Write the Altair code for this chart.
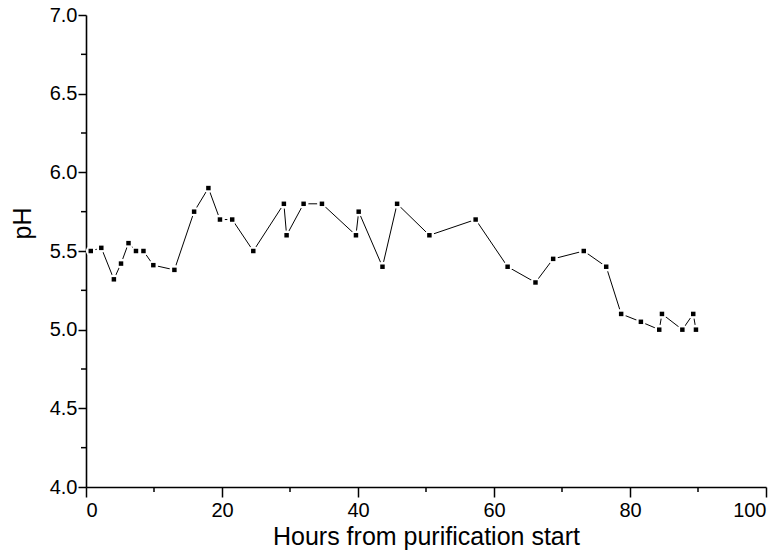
import altair as alt
import pandas as pd

# pH readings over the purification run
hours = [0.7, 2.25, 4.1, 5.15, 6.25, 7.35, 8.45, 9.9, 13.0, 15.9,
         18.0, 19.7, 21.5, 24.6, 29.1, 29.5, 32.0, 34.7, 39.7, 40.1,
         43.6, 45.75, 50.5, 57.3, 62.0, 66.1, 68.7, 73.2, 76.5, 78.7,
         81.6, 84.3, 84.7, 87.7, 89.3, 89.7]
ph = [5.50, 5.52, 5.32, 5.42, 5.55, 5.50, 5.50, 5.41, 5.38, 5.75,
      5.90, 5.70, 5.70, 5.50, 5.80, 5.60, 5.80, 5.80, 5.60, 5.75,
      5.40, 5.80, 5.60, 5.70, 5.40, 5.30, 5.45, 5.50, 5.40, 5.10,
      5.05, 5.00, 5.10, 5.00, 5.10, 5.00]

x_major = [0, 20, 40, 60, 80, 100]
x_minor = [10, 30, 50, 70, 90]
y_major = [4.0, 4.5, 5.0, 5.5, 6.0, 6.5, 7.0]
y_minor = [4.25, 4.75, 5.25, 5.75, 6.25, 6.75]

W, H = 680, 472
FONT = "Liberation Sans"

df = pd.DataFrame({"hours": hours, "ph": ph, "idx": list(range(len(hours)))})
xminor_df = pd.DataFrame({"hours": x_minor})
yminor_df = pd.DataFrame({"ph": y_minor})

x_scale = alt.Scale(domain=[0, 100], nice=False, zero=False)
y_scale = alt.Scale(domain=[4, 7], nice=False, zero=False)

x_axis = alt.Axis(values=x_major, format="d", title="Hours from purification start",
                  grid=False, tickSize=10, labelPadding=3, titleY=57,
                  titleBaseline="alphabetic", titleFontSize=25, labelFontSize=20)
y_axis = alt.Axis(values=y_major, format=".1f", title="pH",
                  grid=False, tickSize=8, labelPadding=1, titleAngle=270,
                  titleX=-64, titleY=208, titleBaseline="middle", titleAlign="center",
                  titleFontSize=25, labelFontSize=20)

x_enc = alt.X("hours:Q", scale=x_scale, axis=x_axis)
y_enc = alt.Y("ph:Q", scale=y_scale, axis=y_axis)

base = alt.Chart(df).encode(x=x_enc, y=y_enc)

line = base.mark_line(color="black", strokeWidth=1).encode(order="idx:Q")
# white disc under each symbol leaves a small gap in the connecting line
halo = base.mark_circle(color="white", size=95, opacity=1)
dots = base.mark_square(color="black", size=20, opacity=1)

# minor tick marks on both axes
x_minor_ticks = alt.Chart(xminor_df).mark_rule(color="black", strokeWidth=1.5).encode(
    x=x_enc, y=alt.value(H), y2=alt.value(H + 5))
y_minor_ticks = alt.Chart(yminor_df).mark_rule(color="black", strokeWidth=1.5).encode(
    y=y_enc, x=alt.value(0), x2=alt.value(-5))

chart = alt.layer(line, halo, dots, x_minor_ticks, y_minor_ticks).properties(
    width=W, height=H,
    background="white",
    padding={"left": 86, "top": 15, "right": 16, "bottom": 63},
    autosize=alt.AutoSizeParams(type="none"),
).configure_view(stroke=None).configure_axis(
    grid=False, domainColor="black", domainWidth=1.6, tickColor="black", tickWidth=1.5,
    labelColor="black", titleColor="black", labelFont=FONT, titleFont=FONT,
    titleFontWeight="normal",
)

chart.save("out.html", embed_options={"renderer": "svg", "actions": False})
